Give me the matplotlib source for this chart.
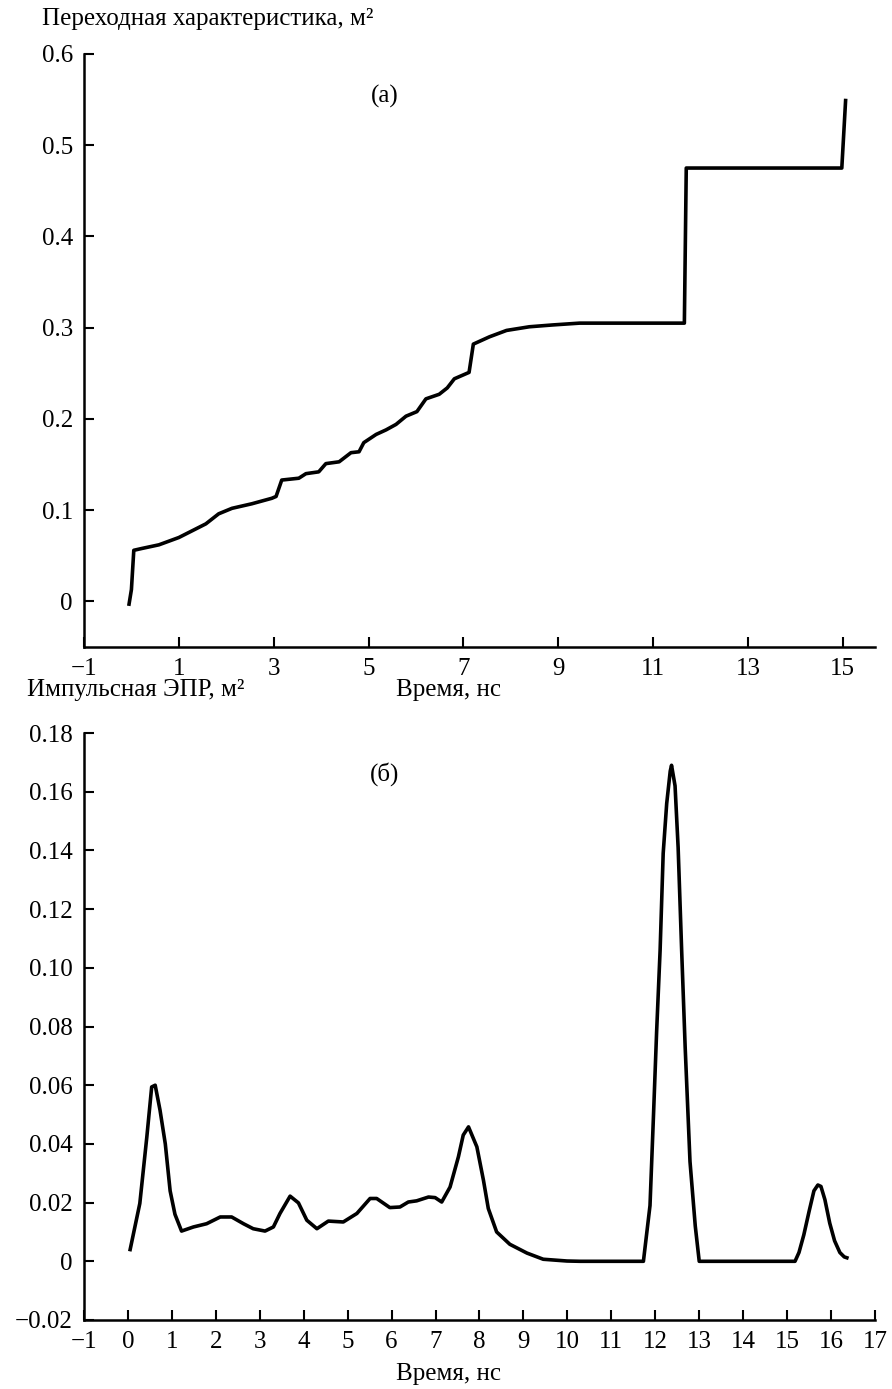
import matplotlib
matplotlib.use("Agg")
import matplotlib.pyplot as plt

plt.rcParams["font.family"] = ["Liberation Serif", "DejaVu Serif"]

# (а) переходная характеристика
step_t = [-0.05, 0.0, 0.05, 0.22, 0.58, 1.0, 1.57, 1.84, 2.12, 2.54, 2.96, 3.05,
          3.17, 3.53, 3.68, 3.95, 4.10, 4.38, 4.63, 4.80, 4.90, 5.16, 5.37, 5.58,
          5.79, 6.02, 6.21, 6.49, 6.66, 6.81, 7.12, 7.21, 7.55, 7.91, 8.39, 8.88,
          9.45, 11.66, 11.70, 14.98, 15.06]
step_v = [-0.003, 0.013, 0.056, 0.058, 0.062, 0.070, 0.085, 0.096, 0.102, 0.107,
          0.113, 0.115, 0.133, 0.135, 0.140, 0.142, 0.151, 0.153, 0.163, 0.164,
          0.174, 0.183, 0.188, 0.194, 0.203, 0.208, 0.222, 0.227, 0.234, 0.244,
          0.251, 0.282, 0.290, 0.297, 0.301, 0.303, 0.305, 0.305, 0.475, 0.475,
          0.549]

# (б) импульсная ЭПР
imp_t = [0.05, 0.27, 0.43, 0.54, 0.62, 0.73, 0.85, 0.96, 1.07, 1.22, 1.49, 1.79,
         2.10, 2.36, 2.63, 2.85, 3.12, 3.31, 3.46, 3.69, 3.88, 4.07, 4.30, 4.56,
         4.90, 5.21, 5.51, 5.66, 5.96, 6.19, 6.38, 6.57, 6.84, 6.99, 7.14, 7.33,
         7.52, 7.63, 7.75, 7.94, 8.09, 8.20, 8.39, 8.69, 9.08, 9.45, 9.99, 10.29,
         11.73, 11.88, 11.96, 12.03, 12.11, 12.18, 12.26, 12.34, 12.37, 12.45,
         12.52, 12.60, 12.68, 12.79, 12.91, 13.00, 15.18, 15.27, 15.38, 15.50,
         15.61, 15.70, 15.77, 15.86, 15.97, 16.08, 16.20, 16.30, 16.36]
imp_v = [0.004, 0.0197, 0.0424, 0.0594, 0.060, 0.0515, 0.040, 0.024, 0.016, 0.0103,
         0.0117, 0.0128, 0.0151, 0.0151, 0.0128, 0.0111, 0.0103, 0.0117, 0.0163,
         0.0222, 0.0199, 0.014, 0.0111, 0.0137, 0.0134, 0.0163, 0.0214, 0.0214,
         0.0183, 0.0185, 0.0202, 0.0206, 0.0219, 0.0217, 0.0202, 0.0253, 0.0356,
         0.043, 0.0458, 0.039, 0.0276, 0.018, 0.010, 0.0058, 0.0028, 0.0007,
         0.0001, 0.0, 0.0, 0.019, 0.050, 0.078, 0.106, 0.139, 0.156, 0.167, 0.169,
         0.162, 0.141, 0.106, 0.073, 0.034, 0.012, 0.0, 0.0, 0.003, 0.009, 0.017,
         0.024, 0.026, 0.0255, 0.021, 0.013, 0.007, 0.003, 0.0015, 0.0012]

step_xticks = [-1, 1, 3, 5, 7, 9, 11, 13, 15]
step_yticks = [0, 0.1, 0.2, 0.3, 0.4, 0.5, 0.6]
imp_xticks = list(range(-1, 18))
imp_yticks = [-0.02, 0, 0.02, 0.04, 0.06, 0.08, 0.10, 0.12, 0.14, 0.16, 0.18]

FS = 18
W, H = 892, 1389


def style_axes(ax):
    for s in ["top", "right"]:
        ax.spines[s].set_visible(False)
    for s in ["left", "bottom"]:
        ax.spines[s].set_linewidth(1.8)
    ax.tick_params(direction="in", length=7, width=1.5, labelsize=FS, pad=8)


def fmt_num(v, nd):
    if abs(v) < 1e-12:
        return "0"
    s = f"{v:.{nd}f}"
    return s.replace("-", "\u2212")


fig = plt.figure(figsize=(W / 100, H / 100), dpi=100)

# ----- верхний график -----
ax1 = fig.add_axes([84 / W, 1 - 647 / H, (875 - 84) / W, (647 - 54) / H])
ax1.plot(step_t, step_v, color="black", lw=2.6)
ax1.set_xlim(-1, 15.68)
ax1.set_ylim(-0.05, 0.6)
ax1.set_xticks(step_xticks)
ax1.set_xticklabels([fmt_num(v, 0) for v in step_xticks])
ax1.set_yticks(step_yticks)
ax1.set_yticklabels([fmt_num(v, 1) for v in step_yticks])
style_axes(ax1)
ax1.text(5.35, 0.553, "(а)", fontsize=FS, ha="center", va="center")

# ----- нижний график -----
ax2 = fig.add_axes([84 / W, 1 - 1320 / H, (875 - 84) / W, (1320 - 733) / H])
ax2.plot(imp_t, imp_v, color="black", lw=2.6)
ax2.set_xlim(-1, 17)
ax2.set_ylim(-0.02, 0.18)
ax2.set_xticks(imp_xticks)
ax2.set_xticklabels([fmt_num(v, 0) for v in imp_xticks])
ax2.set_yticks(imp_yticks)
ax2.set_yticklabels([fmt_num(v, 2) for v in imp_yticks])
style_axes(ax2)
ax2.text(5.85, 0.166, "(б)", fontsize=FS, ha="center", va="center")

# подписи осей
fig.text(42 / W, 1 - 19 / H, "Переходная характеристика, м²", fontsize=FS,
         ha="left", va="center")
fig.text(448 / W, 1 - 690 / H, "Время, нс", fontsize=FS, ha="center", va="center")
fig.text(27 / W, 1 - 690 / H, "Импульсная ЭПР, м²", fontsize=FS,
         ha="left", va="center")
fig.text(448 / W, 1 - 1374 / H, "Время, нс", fontsize=FS, ha="center", va="center")

fig.savefig("out.png", dpi=100)
